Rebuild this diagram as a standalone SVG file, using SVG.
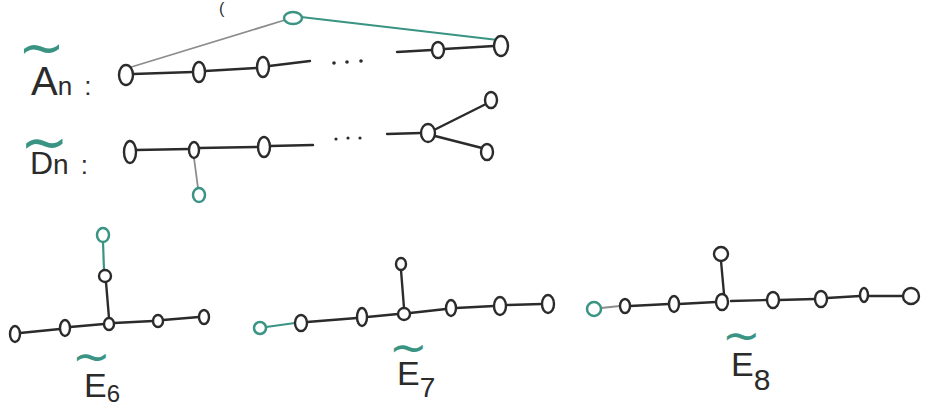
<svg xmlns="http://www.w3.org/2000/svg" width="930" height="410" viewBox="0 0 930 410">
  <style>
    .ln { stroke: #2b2b2b; stroke-width: 2.4; fill: none; stroke-linecap: round; }
    .lt { stroke: #3a9484; stroke-width: 2.2; fill: none; stroke-linecap: round; }
    .lg { stroke: #8c8c8c; stroke-width: 1.8; fill: none; stroke-linecap: round; }
    .nd { stroke: #2b2b2b; stroke-width: 2.4; fill: #ffffff; }
    .nt { stroke: #3a9484; stroke-width: 2.5; fill: #ffffff; }
    .dot { fill: #2b2b2b; }
    .lbl { font-family: "Liberation Sans", "DejaVu Sans", sans-serif; fill: #2b2b2b; }
    .til { font-family: "DejaVu Sans", sans-serif; fill: #3a9484; }
  </style>
  <rect width="930" height="410" fill="#ffffff"/>

  <!-- bracket near the top edge -->
  <text class="lbl" x="219" y="14" font-size="16" fill="#555">(</text>

  <!-- labels: tilde above the letter, subscript after it -->
  <g id="label-An">
    <text class="lbl"><tspan class="til" x="18" y="66" font-size="56">~</tspan><tspan x="31" y="95" font-size="40">A</tspan><tspan font-size="26">n</tspan><tspan font-size="26" dx="12">:</tspan></text>
  </g>
  <g id="label-Dn">
    <text class="lbl"><tspan class="til" x="20" y="162" font-size="58">~</tspan><tspan x="30" y="174" font-size="32">D</tspan><tspan font-size="28">n</tspan><tspan font-size="26" dx="12">:</tspan></text>
  </g>
  <g id="label-E6">
    <text class="lbl"><tspan class="til" x="72" y="372" font-size="46">~</tspan><tspan x="84" y="397" font-size="34">E</tspan><tspan font-size="24" dy="5">6</tspan></text>
  </g>
  <g id="label-E7">
    <text class="lbl"><tspan class="til" x="389" y="363" font-size="46" fill="#5f9a8e">~</tspan><tspan x="397" y="385" font-size="34">E</tspan><tspan font-size="28" dy="12">7</tspan></text>
  </g>
  <g id="label-E8">
    <text class="lbl"><tspan class="til" x="722" y="351" font-size="46" fill="#8c9a97">~</tspan><tspan x="731" y="376" font-size="34">E</tspan><tspan font-size="30" dy="14">8</tspan></text>
  </g>

  <!-- connectors -->
  <g id="connectors">
    <!-- A~n -->
    <line class="lg" x1="128" y1="68" x2="285" y2="20"/>
    <line class="lt" x1="301" y1="17" x2="498" y2="40"/>
    <line class="ln" x1="133" y1="74" x2="193" y2="72"/>
    <line class="ln" x1="205" y1="71" x2="257" y2="68"/>
    <line class="ln" x1="269" y1="66" x2="310" y2="61"/>
    <line class="ln" x1="397" y1="52" x2="432" y2="50"/>
    <line class="ln" x1="444" y1="49" x2="494" y2="46"/>
    <!-- D~n -->
    <line class="ln" x1="136" y1="150" x2="189" y2="149"/>
    <line class="ln" x1="199" y1="148" x2="258" y2="147"/>
    <line class="ln" x1="270" y1="146" x2="313" y2="145"/>
    <line class="ln" x1="387" y1="134" x2="421" y2="133"/>
    <line class="ln" x1="434" y1="130" x2="486" y2="104"/>
    <line class="ln" x1="435" y1="136" x2="482" y2="148"/>
    <line class="lg" x1="194" y1="158" x2="198" y2="188"/>
    <!-- E~6 -->
    <line class="ln" x1="20" y1="333" x2="60" y2="329"/>
    <line class="ln" x1="70" y1="327" x2="104" y2="324"/>
    <line class="ln" x1="114" y1="323" x2="153" y2="321"/>
    <line class="ln" x1="163" y1="320" x2="199" y2="317"/>
    <line class="ln" x1="106" y1="282" x2="109" y2="318"/>
    <line class="lt" x1="103" y1="242" x2="104" y2="270"/>
    <!-- E~7 -->
    <line class="lt" x1="266" y1="327" x2="295" y2="323"/>
    <line class="ln" x1="307" y1="322" x2="357" y2="318"/>
    <line class="ln" x1="367" y1="317" x2="398" y2="314"/>
    <line class="ln" x1="410" y1="313" x2="446" y2="309"/>
    <line class="ln" x1="456" y1="308" x2="494" y2="306"/>
    <line class="ln" x1="506" y1="305" x2="542" y2="304"/>
    <line class="ln" x1="401" y1="270" x2="404" y2="308"/>
    <!-- E~8 -->
    <line class="lg" x1="601" y1="308" x2="620" y2="306"/>
    <line class="ln" x1="630" y1="306" x2="669" y2="304"/>
    <line class="ln" x1="679" y1="304" x2="716" y2="302"/>
    <line class="ln" x1="731" y1="301" x2="767" y2="300"/>
    <line class="ln" x1="779" y1="300" x2="815" y2="299"/>
    <line class="ln" x1="827" y1="298" x2="860" y2="296"/>
    <line class="ln" x1="868" y1="296" x2="903" y2="296"/>
    <line class="ln" x1="721" y1="261" x2="724" y2="294"/>
  </g>

  <!-- ellipsis marks -->
  <g id="dots-An">
    <circle class="dot" cx="334" cy="63" r="1.8"/>
    <circle class="dot" cx="347" cy="62" r="1.8"/>
    <circle class="dot" cx="361" cy="61" r="1.8"/>
  </g>
  <g id="dots-Dn">
    <circle class="dot" cx="336" cy="139" r="1.6"/>
    <circle class="dot" cx="348" cy="138" r="1.6"/>
    <circle class="dot" cx="360" cy="138" r="1.6"/>
  </g>

  <!-- A~n nodes -->
  <g id="a0"><ellipse class="nt" cx="293" cy="18" rx="9" ry="6"/></g>
  <g id="a1"><ellipse class="nd" cx="126" cy="75" rx="7" ry="10"/></g>
  <g id="a2"><ellipse class="nd" cx="199" cy="72" rx="6" ry="10"/></g>
  <g id="a3"><ellipse class="nd" cx="263" cy="67" rx="6" ry="10"/></g>
  <g id="a4"><ellipse class="nd" cx="438" cy="50" rx="6" ry="8"/></g>
  <g id="a5"><ellipse class="nd" cx="501" cy="46" rx="7" ry="10"/></g>

  <!-- D~n nodes -->
  <g id="d0"><ellipse class="nt" cx="199" cy="195" rx="6" ry="7"/></g>
  <g id="d1"><ellipse class="nd" cx="130" cy="152" rx="6" ry="11"/></g>
  <g id="d2"><ellipse class="nd" cx="194" cy="150" rx="5" ry="8"/></g>
  <g id="d3"><ellipse class="nd" cx="264" cy="147" rx="6" ry="10"/></g>
  <g id="d4"><ellipse class="nd" cx="428" cy="133" rx="7" ry="9"/></g>
  <g id="d5"><ellipse class="nd" cx="491" cy="100" rx="6" ry="8"/></g>
  <g id="d6"><ellipse class="nd" cx="487" cy="152" rx="6" ry="8"/></g>

  <!-- E~6 nodes -->
  <g id="e0"><ellipse class="nt" cx="103" cy="235" rx="6" ry="7"/></g>
  <g id="e1"><ellipse class="nd" cx="15" cy="334" rx="5" ry="8"/></g>
  <g id="e2"><ellipse class="nd" cx="65" cy="328" rx="5" ry="8"/></g>
  <g id="e3"><ellipse class="nd" cx="109" cy="324" rx="5" ry="6"/></g>
  <g id="e4"><ellipse class="nd" cx="158" cy="321" rx="5" ry="6"/></g>
  <g id="e5"><ellipse class="nd" cx="204" cy="317" rx="5" ry="7"/></g>
  <g id="e6"><ellipse class="nd" cx="105" cy="276" rx="6" ry="6"/></g>

  <!-- E~7 nodes -->
  <g id="f0"><ellipse class="nt" cx="260" cy="328" rx="6" ry="6"/></g>
  <g id="f1"><ellipse class="nd" cx="301" cy="323" rx="6" ry="8"/></g>
  <g id="f2"><ellipse class="nd" cx="362" cy="317" rx="5" ry="9"/></g>
  <g id="f3"><ellipse class="nd" cx="404" cy="314" rx="6" ry="6"/></g>
  <g id="f4"><ellipse class="nd" cx="401" cy="264" rx="5" ry="6"/></g>
  <g id="f5"><ellipse class="nd" cx="451" cy="308" rx="5" ry="8"/></g>
  <g id="f6"><ellipse class="nd" cx="500" cy="306" rx="6" ry="9"/></g>
  <g id="f7"><ellipse class="nd" cx="548" cy="304" rx="6" ry="9"/></g>

  <!-- E~8 nodes -->
  <g id="g0"><ellipse class="nt" cx="594" cy="309" rx="7" ry="7"/></g>
  <g id="g1"><ellipse class="nd" cx="625" cy="306" rx="5" ry="7"/></g>
  <g id="g2"><ellipse class="nd" cx="674" cy="304" rx="5" ry="8"/></g>
  <g id="g3"><ellipse class="nd" cx="722" cy="302" rx="6" ry="8"/></g>
  <g id="g4"><ellipse class="nd" cx="721" cy="254" rx="7" ry="7"/></g>
  <g id="g5"><ellipse class="nd" cx="773" cy="300" rx="6" ry="8"/></g>
  <g id="g6"><ellipse class="nd" cx="821" cy="299" rx="6" ry="8"/></g>
  <g id="g7"><ellipse class="nd" cx="864" cy="295" rx="4" ry="7"/></g>
  <g id="g8"><ellipse class="nd" cx="911" cy="296" rx="8" ry="8"/></g>
</svg>
